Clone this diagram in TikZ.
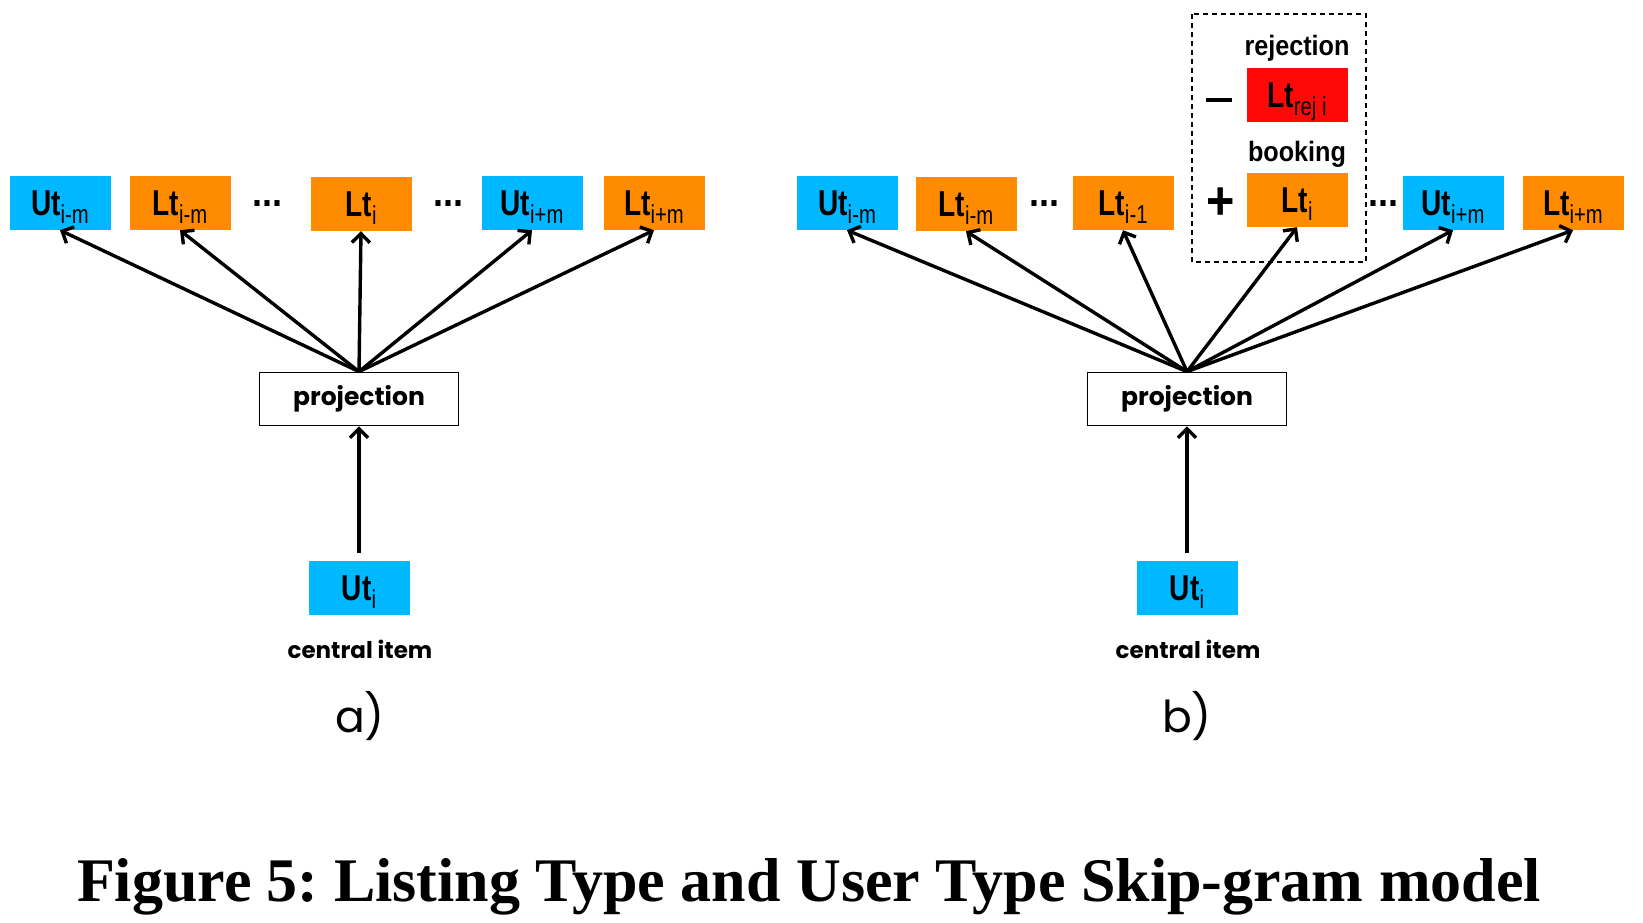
\documentclass[tikz,border=0pt]{standalone}
\usepackage{fontspec}
\setmainfont{Liberation Serif}
\newfontfamily\narrowsans[FakeStretch=0.78]{Liberation Sans}
\newfontfamily\tagsans[FakeStretch=0.9]{Liberation Sans}
\newfontfamily\geosans{Poppins}
\usetikzlibrary{arrows.meta, positioning}
\definecolor{userblue}{RGB}{0,184,255}
\definecolor{listorange}{RGB}{255,140,0}
\definecolor{rejectred}{RGB}{255,8,8}
\newcommand{\typelab}[2]{{\narrowsans\bfseries\fontsize{36}{36}\selectfont #1}{\narrowsans\fontsize{26}{26}\selectfont\smash{\raisebox{-8pt}{#2}}}}

\begin{document}
\begin{tikzpicture}[
    x=1pt, y=-1pt,
    typebox/.style={minimum width=101pt, minimum height=54pt, inner sep=0pt},
    ubox/.style={typebox, fill=userblue},
    lbox/.style={typebox, fill=listorange},
    rbox/.style={typebox, fill=rejectred},
    projbox/.style={draw, line width=1.8pt, fill=white, minimum width=199pt, minimum height=53pt, inner sep=0pt, font=\geosans\bfseries\fontsize{25}{25}\selectfont},
    note/.style={font=\geosans\bfseries\fontsize{23}{23}\selectfont},
    tag/.style={font=\tagsans\bfseries\fontsize{28}{28}\selectfont},
    gap/.style={anchor=base, font=\tagsans\bfseries\fontsize{40}{40}\selectfont},
    sign/.style={font=\tagsans\bfseries\fontsize{54}{54}\selectfont},
    arr/.style={-{Straight Barb[length=9pt, width=18pt, line width=3.4pt]}, line width=3.4pt}
]
\useasboundingbox (0,0) rectangle (1643,922);

% a) skip-gram with user and listing types
\node[ubox] (uim) at (60,203) {\typelab{Ut}{i-m}};
\node[lbox] (lim) at (180,203) {\typelab{Lt}{i-m}};
\node[gap] (da1) at (267,206) {...};
\node[lbox] (lti) at (361,204) {\typelab{Lt}{i}};
\node[gap] (da2) at (448,206) {...};
\node[ubox] (uip) at (532,203) {\typelab{Ut}{i+m}};
\node[lbox] (lip) at (654,203) {\typelab{Lt}{i+m}};

\node[projbox] (proj) at (359,399) {projection};
\node[ubox] (uti) at (359,588) {\typelab{Ut}{i}};
\node[note] (cen) at (360,649) {central item};
\node[font=\geosans\fontsize{44}{44}\selectfont] (capa) at (360,716) {a)};

\foreach \t in {uim, lim, lti, uip, lip}
    \draw[arr] (proj.north) -- (\t.south);
\draw[arr, shorten <=8pt] (uti) -- (proj);

% b) with rejection as negative
\node[ubox] (uim2) at (847,203) {\typelab{Ut}{i-m}};
\node[lbox] (lim2) at (966,204) {\typelab{Lt}{i-m}};
\node[gap] (db1) at (1044,206) {...};
\node[lbox] (lto) at (1123,203) {\typelab{Lt}{i-1}};
\node[sign] (plus) at (1221,204) {+};
\node[lbox] (lti2) at (1297,200) {\typelab{Lt}{i}};
\node[tag] (book) at (1297,154) {booking};
\node[rbox] (rej) at (1297,95) {\typelab{Lt}{rej i}};
\node[tag] (rejt) at (1297,48) {rejection};
\node[inner sep=0pt] (minus) at (1219,100) {\rule{26pt}{4pt}};
\draw[dashed, line width=1.4pt, dash pattern=on 5pt off 4pt] (1192,14) rectangle (1366,262);
\node[gap] (db2) at (1383,206) {...};
\node[ubox] (uip2) at (1453,203) {\typelab{Ut}{i+m}};
\node[lbox] (lip2) at (1573,203) {\typelab{Lt}{i+m}};

\node[projbox] (proj2) at (1187,399) {projection};
\node[ubox] (uti2) at (1187,588) {\typelab{Ut}{i}};
\node[note] (cen2) at (1188,649) {central item};
\node[font=\geosans\fontsize{44}{44}\selectfont] (capb) at (1187,716) {b)};

\foreach \t in {uim2, lim2, lto, lti2, uip2, lip2}
    \draw[arr] (proj2.north) -- (\t.south);
\draw[arr, shorten <=8pt] (uti2) -- (proj2);

% caption
\node[font=\bfseries\fontsize{62}{64}\selectfont] (fig) at (809,887) {\frenchspacing Figure 5: Listing Type and User Type Skip-gram model};
\end{tikzpicture}
\end{document}
